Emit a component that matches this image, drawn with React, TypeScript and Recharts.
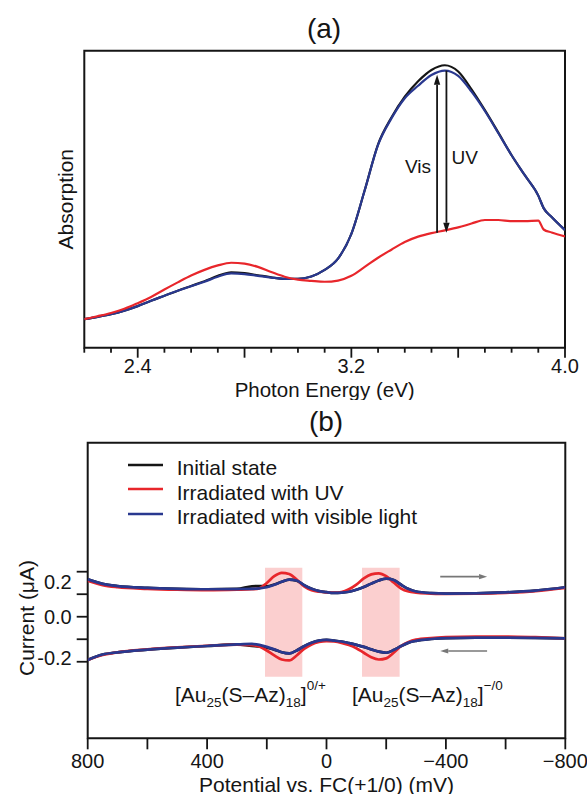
import React from 'react';
import {
  LineChart,
  Line,
  XAxis,
  YAxis,
  ReferenceArea,
  ReferenceLine,
  Legend,
} from 'recharts';

const FONT = '"Liberation Sans", Arial, Helvetica, sans-serif';
const INK = '#151515';
const RED = '#e8262b';
const BLUE = '#29388f';
const PINK = '#fbcfcf';
const GRAY = '#777777';

// ---- (a) absorption spectra ----
const energy = [
  2.2, 2.25, 2.3, 2.35, 2.4, 2.45, 2.5, 2.55, 2.6, 2.65, 2.7, 2.75, 2.8, 2.85,
  2.9, 2.95, 3.0, 3.05, 3.1, 3.15, 3.2, 3.25, 3.3, 3.35, 3.4, 3.45, 3.5, 3.55,
  3.6, 3.65, 3.7, 3.75, 3.8, 3.85, 3.9, 3.92, 3.95, 4.0,
];
const absInitial = [
  0.096, 0.104, 0.113, 0.125, 0.14, 0.158, 0.175, 0.192, 0.208, 0.224, 0.242,
  0.254, 0.251, 0.244, 0.237, 0.232, 0.232, 0.24, 0.262, 0.3, 0.383, 0.53,
  0.685, 0.775, 0.845, 0.897, 0.935, 0.951, 0.93, 0.87, 0.8, 0.725, 0.648,
  0.58, 0.512, 0.47, 0.44, 0.396,
];
const absUv = [
  0.096, 0.106, 0.117, 0.131, 0.15, 0.171, 0.196, 0.22, 0.243, 0.262, 0.277,
  0.286, 0.283, 0.272, 0.255, 0.239, 0.229, 0.225, 0.222, 0.226, 0.242, 0.272,
  0.303, 0.33, 0.356, 0.374, 0.386, 0.395, 0.405, 0.418, 0.43, 0.43, 0.426,
  0.426, 0.428, 0.398, 0.388, 0.375,
];
const absVis = [
  0.096, 0.104, 0.113, 0.125, 0.14, 0.158, 0.175, 0.192, 0.207, 0.222, 0.239,
  0.25, 0.248, 0.242, 0.236, 0.232, 0.232, 0.24, 0.262, 0.3, 0.383, 0.53,
  0.683, 0.772, 0.84, 0.882, 0.918, 0.933, 0.915, 0.862, 0.797, 0.723, 0.648,
  0.58, 0.512, 0.47, 0.44, 0.396,
];
const energyTicks = [
  2.2, 2.3, 2.4, 2.5, 2.6, 2.7, 2.8, 2.9, 3.0, 3.1, 3.2, 3.3, 3.4, 3.5, 3.6,
  3.7, 3.8, 3.9, 4.0,
];
const energyMajor = [2.4, 2.8, 3.2, 3.6, 4.0];
const energyLabels = [2.4, 3.2, 4.0];
// arrows: [energy, from, to]
const visArrow = [3.521, 0.387, 0.919];
const uvArrow = [3.556, 0.933, 0.387];

// ---- (b) cyclic voltammetry ----
const potential = [
  800, 750, 700, 600, 500, 400, 300, 250, 225, 200, 175, 150, 125, 100, 75, 50,
  25, 0, -25, -50, -75, -100, -125, -150, -175, -200, -225, -250, -275, -300,
  -350, -400, -500, -600, -700, -800,
];
const initialUp = [
  0.166, 0.146, 0.136, 0.128, 0.124, 0.122, 0.124, 0.135, 0.136, 0.135, 0.143,
  0.155, 0.165, 0.16, 0.14, 0.124, 0.114, 0.109, 0.106, 0.107, 0.111, 0.12,
  0.132, 0.147, 0.161, 0.169, 0.163, 0.142, 0.123, 0.112, 0.105, 0.103, 0.104,
  0.108, 0.116, 0.131,
];
const uvUp = [
  0.16, 0.14, 0.131, 0.124, 0.12, 0.118, 0.12, 0.122, 0.126, 0.15, 0.18, 0.195,
  0.19, 0.165, 0.135, 0.118, 0.111, 0.108, 0.107, 0.11, 0.122, 0.143, 0.17,
  0.188, 0.193, 0.18, 0.152, 0.125, 0.112, 0.107, 0.103, 0.101, 0.102, 0.106,
  0.114, 0.128,
];
const visUp = [
  0.166, 0.146, 0.136, 0.128, 0.124, 0.122, 0.123, 0.124, 0.126, 0.131, 0.142,
  0.155, 0.165, 0.161, 0.14, 0.124, 0.114, 0.109, 0.106, 0.107, 0.111, 0.12,
  0.132, 0.147, 0.161, 0.169, 0.163, 0.142, 0.123, 0.112, 0.105, 0.103, 0.104,
  0.108, 0.116, 0.131,
];
const initialDown = [
  -0.192, -0.168, -0.158, -0.146, -0.137, -0.13, -0.123, -0.13, -0.132, -0.138,
  -0.146, -0.158, -0.163, -0.15, -0.131, -0.116, -0.106, -0.103, -0.106, -0.11,
  -0.117, -0.125, -0.134, -0.145, -0.155, -0.16, -0.148, -0.13, -0.115, -0.107,
  -0.099, -0.095, -0.093, -0.093, -0.094, -0.096,
];
const uvDown = [
  -0.192, -0.17, -0.158, -0.145, -0.136, -0.129, -0.124, -0.126, -0.132, -0.15,
  -0.172, -0.19, -0.194, -0.172, -0.143, -0.123, -0.112, -0.108, -0.11, -0.116,
  -0.126, -0.14, -0.16, -0.18, -0.19, -0.185, -0.16, -0.13, -0.112, -0.102,
  -0.095, -0.091, -0.088, -0.088, -0.091, -0.096,
];
const visDown = [
  -0.192, -0.168, -0.158, -0.146, -0.137, -0.13, -0.123, -0.121, -0.125, -0.134,
  -0.145, -0.158, -0.163, -0.15, -0.131, -0.116, -0.106, -0.103, -0.106, -0.11,
  -0.117, -0.125, -0.134, -0.145, -0.155, -0.16, -0.148, -0.13, -0.115, -0.107,
  -0.099, -0.095, -0.093, -0.093, -0.094, -0.096,
];
const cvStates = ['Initial state', 'Irradiated with UV', 'Irradiated with visible light'];
const cvColors = [INK, RED, BLUE];
const potentialTicks = [800, 600, 400, 200, 0, -200, -400, -600, -800];
const potentialLabels = [800, 400, 0, -400, -800];
const currentTicks = [-0.2, -0.1, 0, 0.1, 0.2];
const currentLabels = [0.2, 0, -0.2];
const currentDomain = [-0.54, 0.773];
// shaded redox windows (mV) and their current span
const redoxBands = [
  [206, 81],
  [-119, -245],
];
const bandCurrent = [-0.267, 0.218];
// scan direction arrows: [from mV, to mV, current]
const scanArrows = [
  [-381, -538, 0.178],
  [-538, -381, -0.152],
];

const spectra = energy.map((e, i) => ({
  e,
  initial: absInitial[i],
  uv: absUv[i],
  vis: absVis[i],
}));

const cv = potential.map((p, i) => ({
  p,
  initialUp: initialUp[i],
  uvUp: uvUp[i],
  visUp: visUp[i],
  initialDown: initialDown[i],
  uvDown: uvDown[i],
  visDown: visDown[i],
}));

const near = (a: number, b: number) => Math.abs(a - b) < 1e-6;
const fmtMinus = (v: number) => (v < 0 ? '\u2212' + Math.abs(v) : String(v));

const Arrow = (props: any) => {
  const { x1, y1, x2, y2, color, width, head, text, textDx, textDy, anchor } = props;
  const dx = x2 - x1;
  const dy = y2 - y1;
  const len = Math.hypot(dx, dy) || 1;
  const ux = dx / len;
  const uy = dy / len;
  const bx = x2 - ux * head;
  const by = y2 - uy * head;
  const hw = head * 0.32;
  const pts = `${x2},${y2} ${bx - uy * hw},${by + ux * hw} ${bx + uy * hw},${by - ux * hw}`;
  return (
    <g>
      <line x1={x1} y1={y1} x2={bx} y2={by} stroke={color} strokeWidth={width} />
      <polygon points={pts} fill={color} />
      {text && (
        <text
          x={x1 + textDx}
          y={(y1 + y2) / 2 + textDy}
          textAnchor={anchor}
          fontSize={19}
          fontFamily={FONT}
          fill={INK}
        >
          {text}
        </text>
      )}
    </g>
  );
};

const EnergyTick = ({ x, y, payload }: any) => {
  const v = payload.value;
  const major = energyMajor.some((m) => near(m, v));
  const label = energyLabels.find((m) => near(m, v));
  return (
    <g>
      <line x1={x} y1={y} x2={x} y2={y + (major ? 10 : 5)} stroke={INK} strokeWidth={1.8} />
      {label !== undefined && (
        <text x={x} y={y + 25.5} textAnchor="middle" fontSize={20} fontFamily={FONT} fill={INK}>
          {label.toFixed(1)}
        </text>
      )}
    </g>
  );
};

const PotentialTick = ({ x, y, payload }: any) => {
  const v = payload.value;
  const label = potentialLabels.includes(v);
  return (
    <g>
      <line x1={x} y1={y} x2={x} y2={y + 11} stroke={INK} strokeWidth={1.8} />
      {label && (
        <text x={x} y={y + 30} textAnchor="middle" fontSize={20} fontFamily={FONT} fill={INK}>
          {fmtMinus(v)}
        </text>
      )}
    </g>
  );
};

const CurrentTick = ({ x, y, payload }: any) => {
  const v = payload.value;
  const label = currentLabels.find((m) => near(m, v));
  const shift = v > 0.01 ? 10 : v < -0.01 ? -4 : 0;
  return (
    <g>
      <line x1={x - 11} y1={y} x2={x} y2={y} stroke={INK} strokeWidth={1.8} />
      {label !== undefined && (
        <text x={x - 16} y={y + 7 + shift} textAnchor="end" fontSize={20} fontFamily={FONT} fill={INK}>
          {label.toFixed(1)}
        </text>
      )}
    </g>
  );
};

const CvLegend = () => (
  <div style={{ fontFamily: FONT, fontSize: 21, color: INK }}>
    {cvStates.map((name, i) => (
      <div key={name} style={{ display: 'flex', alignItems: 'center', height: 24.5 }}>
        <svg width={35} height={4} style={{ position: 'relative', top: -3 }}>
          <line x1={0} y1={2} x2={35} y2={2} stroke={cvColors[i]} strokeWidth={2.5} />
        </svg>
        <span style={{ marginLeft: 13.7, lineHeight: '21px', whiteSpace: 'nowrap' }}>{name}</span>
      </div>
    ))}
  </div>
);

const Compound = ({ left, sup }: { left: number; sup: string }) => (
  <div
    style={{
      position: 'absolute',
      left,
      top: 684,
      fontFamily: FONT,
      fontSize: 21,
      lineHeight: '21px',
      color: INK,
      whiteSpace: 'nowrap',
    }}
  >
    [Au<span style={{ fontSize: 13.5, position: 'relative', top: 5 }}>25</span>(S–Az)
    <span style={{ fontSize: 13.5, position: 'relative', top: 5 }}>18</span>]
    <span style={{ fontSize: 13.5, position: 'relative', top: -12 }}>{sup}</span>
  </div>
);

export default function App() {
  return (
    <div style={{ position: 'absolute', left: 0, top: 0, width: 587, height: 794, fontFamily: FONT }}>
      {/* (a) */}
      <div style={{ position: 'absolute', left: 0, top: 0 }}>
        <LineChart width={587} height={400} data={spectra} margin={{ top: 50.7, right: 22, bottom: 0, left: 0 }}>
          <XAxis
            dataKey="e"
            type="number"
            domain={[2.2, 4.0]}
            ticks={energyTicks}
            interval={0}
            allowDataOverflow
            axisLine={false}
            tickLine={false}
            tickSize={0}
            tickMargin={0}
            height={52.3}
            tick={(p: any) => <EnergyTick {...p} />}
            label={{
              value: 'Photon Energy (eV)',
              position: 'insideBottom',
              offset: 3,
              fontSize: 20.5,
              fontFamily: FONT,
              fill: INK,
            }}
          />
          <YAxis
            type="number"
            domain={[0, 1]}
            allowDataOverflow
            width={84.3}
            tick={false}
            axisLine={false}
            tickLine={false}
            label={{
              value: 'Absorption',
              angle: -90,
              position: 'insideLeft',
              offset: 66,
              fontSize: 21,
              fontFamily: FONT,
              fill: INK,
              style: { textAnchor: 'middle' },
            }}
          />
          <Line dataKey="initial" stroke={INK} strokeWidth={2.2} dot={false} activeDot={false} type="monotone" isAnimationActive={false} />
          <Line dataKey="vis" stroke={BLUE} strokeWidth={2.2} dot={false} activeDot={false} type="monotone" isAnimationActive={false} />
          <Line dataKey="uv" stroke={RED} strokeWidth={2.2} dot={false} activeDot={false} type="monotone" isAnimationActive={false} />
          <ReferenceArea x1={2.2} x2={4.0} y1={0} y2={1} fill="none" stroke={INK} strokeWidth={2} />
          <ReferenceLine
            segment={[
              { x: visArrow[0], y: visArrow[1] },
              { x: visArrow[0], y: visArrow[2] },
            ]}
            shape={(p: any) => (
              <Arrow {...p} color={INK} width={1.8} head={10} text="Vis" textDx={-6} textDy={19} anchor="end" />
            )}
          />
          <ReferenceLine
            segment={[
              { x: uvArrow[0], y: uvArrow[1] },
              { x: uvArrow[0], y: uvArrow[2] },
            ]}
            shape={(p: any) => (
              <Arrow {...p} color={INK} width={1.8} head={10} text="UV" textDx={5} textDy={12} anchor="start" />
            )}
          />
        </LineChart>
      </div>

      {/* (b) */}
      <div style={{ position: 'absolute', left: 0, top: 400 }}>
        <LineChart width={587} height={394} data={cv} margin={{ top: 42.7, right: 21.7, bottom: 0, left: 0 }}>
          <XAxis
            dataKey="p"
            type="number"
            domain={[-800, 800]}
            reversed
            ticks={potentialTicks}
            interval={0}
            allowDataOverflow
            axisLine={false}
            tickLine={false}
            tickSize={0}
            tickMargin={0}
            height={55.7}
            tick={(p: any) => <PotentialTick {...p} />}
            label={{
              value: 'Potential vs. FC(+1/0) (mV)',
              position: 'insideBottom',
              offset: 2.5,
              fontSize: 21,
              fontFamily: FONT,
              fill: INK,
            }}
          />
          <YAxis
            type="number"
            domain={currentDomain}
            allowDataOverflow
            ticks={currentTicks}
            interval={0}
            width={87.7}
            axisLine={false}
            tickLine={false}
            tickSize={0}
            tickMargin={0}
            tick={(p: any) => <CurrentTick {...p} />}
          />
          {redoxBands.map(([a, b]) => (
            <ReferenceArea
              key={a}
              x1={a}
              x2={b}
              y1={bandCurrent[0]}
              y2={bandCurrent[1]}
              fill={PINK}
              fillOpacity={1}
              stroke="none"
            />
          ))}
          <Line dataKey="initialUp" stroke={INK} strokeWidth={2.7} dot={false} activeDot={false} type="monotone" isAnimationActive={false} legendType="none" />
          <Line dataKey="initialDown" stroke={INK} strokeWidth={2.7} dot={false} activeDot={false} type="monotone" isAnimationActive={false} legendType="none" />
          <Line dataKey="uvUp" stroke={RED} strokeWidth={2.7} dot={false} activeDot={false} type="monotone" isAnimationActive={false} legendType="none" />
          <Line dataKey="uvDown" stroke={RED} strokeWidth={2.7} dot={false} activeDot={false} type="monotone" isAnimationActive={false} legendType="none" />
          <Line dataKey="visUp" stroke={BLUE} strokeWidth={2.7} dot={false} activeDot={false} type="monotone" isAnimationActive={false} legendType="none" />
          <Line dataKey="visDown" stroke={BLUE} strokeWidth={2.7} dot={false} activeDot={false} type="monotone" isAnimationActive={false} legendType="none" />
          <ReferenceArea x1={800} x2={-800} y1={currentDomain[0]} y2={currentDomain[1]} fill="none" stroke={INK} strokeWidth={2} />
          {scanArrows.map(([from, to, c]) => (
            <ReferenceLine
              key={from}
              segment={[
                { x: from, y: c },
                { x: to, y: c },
              ]}
              shape={(p: any) => <Arrow {...p} color={GRAY} width={1.6} head={8} />}
            />
          ))}
          <Legend
            layout="vertical"
            align="center"
            verticalAlign="middle"
            content={() => <CvLegend />}
            wrapperStyle={{ left: 128, top: 55.5, width: 'auto', margin: 0 }}
          />
        </LineChart>
      </div>

      {/* titles and annotations */}
      <div style={{ position: 'absolute', left: 324, top: 15.3, transform: 'translateX(-50%)', fontSize: 28, lineHeight: '28px', color: INK }}>
        (a)
      </div>
      <div style={{ position: 'absolute', left: 326, top: 407.8, transform: 'translateX(-50%)', fontSize: 28, lineHeight: '28px', color: INK }}>
        (b)
      </div>
      <div
        style={{
          position: 'absolute',
          left: 26,
          top: 618,
          transform: 'translate(-50%, -50%) rotate(-90deg)',
          fontSize: 21,
          lineHeight: '21px',
          color: INK,
          whiteSpace: 'nowrap',
        }}
      >
        Current (μA)
      </div>
      <Compound left={175} sup="0/+" />
      <Compound left={352} sup={'\u2212/0'} />
    </div>
  );
}
